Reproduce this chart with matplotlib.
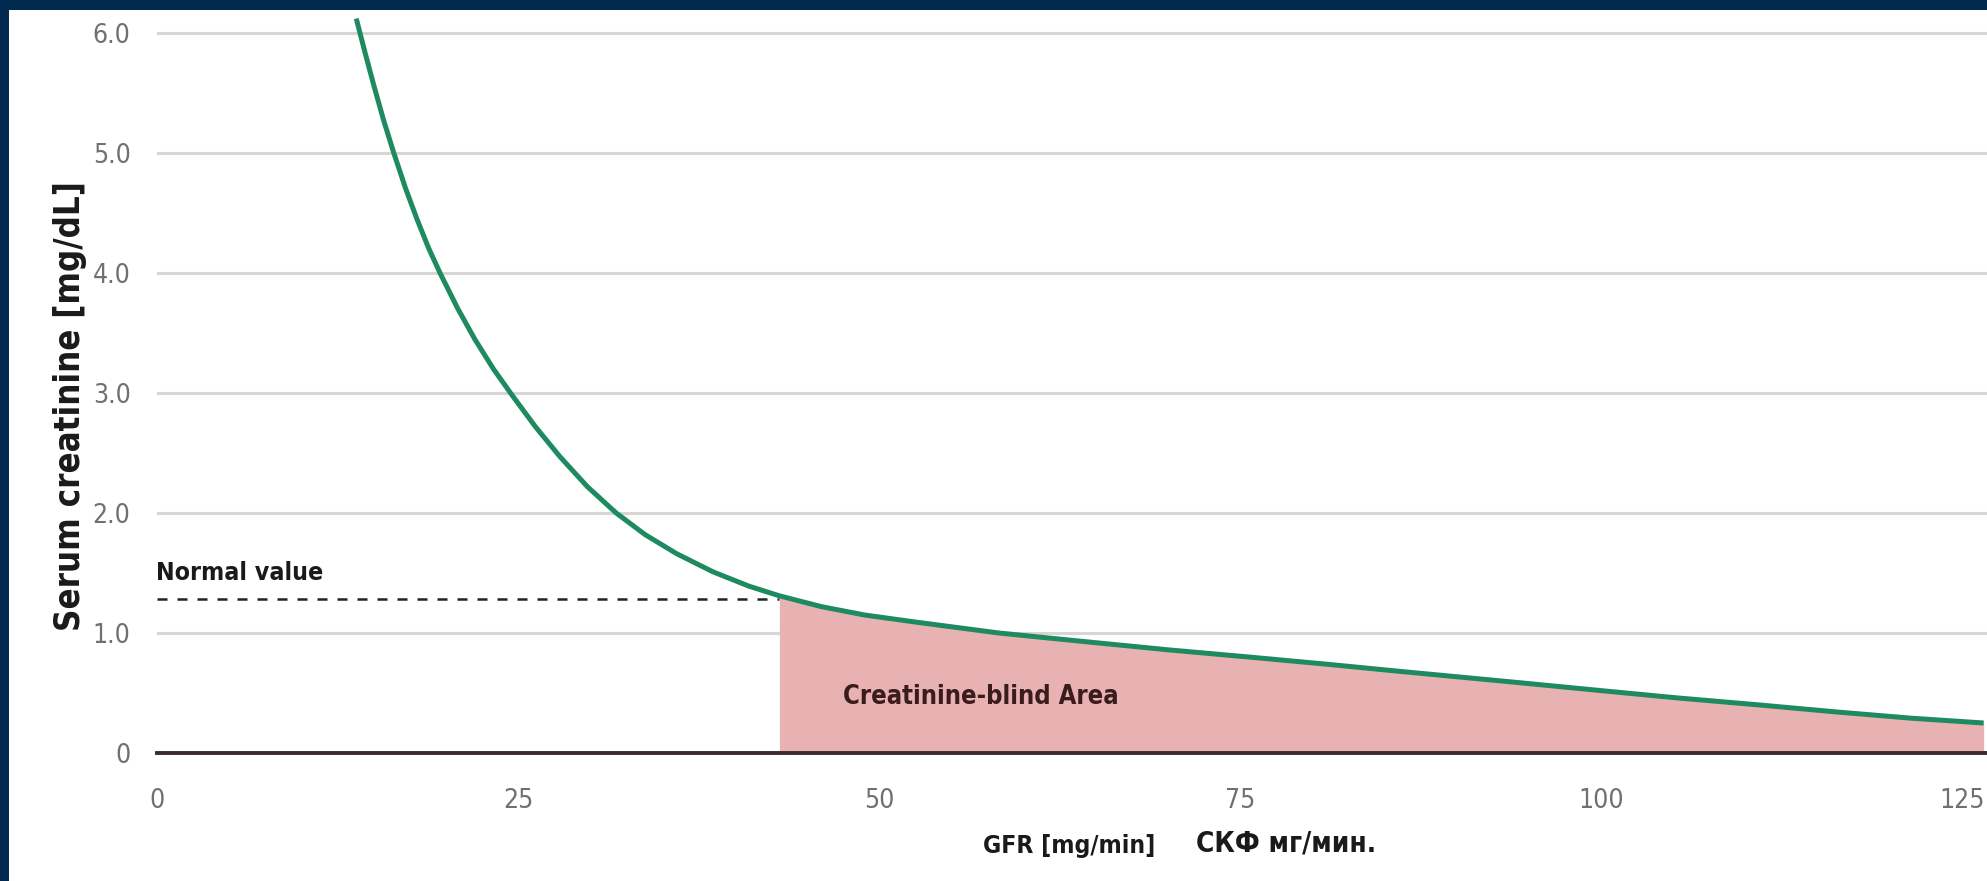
import matplotlib
matplotlib.use('Agg')
import matplotlib.pyplot as plt
from matplotlib import font_manager
from matplotlib.patches import Rectangle

# ---------------- data ----------------
gfr = [13.8, 14.4, 15.0, 15.7, 16.4, 17.2, 18.0, 18.8, 19.6, 20.8, 22.0,
       23.3, 24.6, 26.2, 27.9, 29.8, 31.8, 33.8, 36.0, 38.5, 41.0, 43.1,
       46.0, 49.0, 52.6, 58.3, 64.1, 70.0, 75.6, 81.0, 86.1, 94.0, 100.0,
       105.2, 111.0, 116.5, 121.5, 126.5]
creatinine = [6.12, 5.84, 5.57, 5.27, 5.00, 4.71, 4.45, 4.21, 4.00, 3.71,
              3.45, 3.20, 2.98, 2.72, 2.47, 2.22, 2.00, 1.82, 1.66, 1.51,
              1.39, 1.31, 1.22, 1.15, 1.09, 1.00, 0.93, 0.86, 0.80, 0.74,
              0.68, 0.59, 0.52, 0.46, 0.40, 0.34, 0.29, 0.25]
x_ticks = [0, 25, 50, 75, 100, 125]
x_tick_labels = ['0', '25', '50', '75', '100', '125']
y_ticks = [0, 1, 2, 3, 4, 5, 6]
y_tick_labels = ['0', '1.0', '2.0', '3.0', '4.0', '5.0', '6.0']
normal_value = 1.28
blind_start = 43.1

# ---------------- fonts ----------------
names = {f.name for f in font_manager.fontManager.ttflist}
if 'Liberation Sans Narrow' in names:
    FAM = ['Liberation Sans Narrow', 'DejaVu Sans']
    STRETCH = 'normal'
else:
    FAM = ['DejaVu Sans']
    STRETCH = 'condensed'

W, H, DPI = 1987, 881, 100
fig = plt.figure(figsize=(W / DPI, H / DPI), dpi=DPI, facecolor='#02294e')

# white panel (navy frame on left and top)
fig.patches.append(Rectangle((9 / W, 0), 1 - 9 / W, (H - 10) / H,
                             transform=fig.transFigure, facecolor='white',
                             edgecolor='none', zorder=-5))

x0_px = 157
px_per_x = 14.44
y0_px = 753        # from top
px_per_y = 120.0
ax = fig.add_axes([x0_px / W, (H - y0_px) / H, 1 - x0_px / W, (y0_px - 10) / H])
ax.set_zorder(2)
ax.set_facecolor('none')
ax.set_xlim(0, (W - x0_px) / px_per_x)
ax.set_ylim(0, (y0_px - 10) / px_per_y)
for s in ax.spines.values():
    s.set_visible(False)

ax.set_yticks(y_ticks, y_tick_labels)
ax.set_xticks(x_ticks, x_tick_labels)
ax.tick_params(length=0, colors='#707070', labelsize=19)
ax.tick_params(axis='y', pad=19)
ax.tick_params(axis='x', pad=25)
for lab in ax.get_xticklabels() + ax.get_yticklabels():
    lab.set_family(FAM)
    lab.set_stretch(STRETCH)
ax.yaxis.grid(True, color='#d6d6d6', lw=2.2)
ax.set_axisbelow(True)

# shaded creatinine-blind area
fx = [g for g in gfr if g >= blind_start]
fy = [c for g, c in zip(gfr, creatinine) if g >= blind_start]
ax.fill_between(fx, 0, fy, color='#e7b2b1', lw=0, zorder=2)

# curve
ax.plot(gfr, creatinine, color='#1e8a60', lw=3.6, solid_capstyle='butt',
        solid_joinstyle='round', zorder=4, clip_on=False)

# normal value dashed line
ax.plot([0, blind_start], [normal_value, normal_value], color='#222222',
        lw=1.8, linestyle=(0, (4, 4)), zorder=3)

# x axis line
ax.axhline(0, color='#3a2b2b', lw=2.8, zorder=5, clip_on=False)

# ---------------- texts ----------------
def ftxt(xpx, ypx, s, **kw):
    return fig.text(xpx / W, 1 - ypx / H, s, family=FAM, fontstretch=STRETCH,
                    zorder=6, **kw)

t_norm = ftxt(156, 573, 'Normal value', ha='left', va='center',
              fontweight='bold', color='#1a1a1a', fontsize=18)
t_blind = ftxt(843, 697, 'Creatinine-blind Area', ha='left', va='center',
               fontweight='bold', color='#3a1c1c', fontsize=18)
t_gfr = ftxt(983, 846, 'GFR [mg/min]', ha='left', va='center',
             fontweight='bold', color='#1a1a1a', fontsize=18)
t_skf = ftxt(1196, 843, 'СКФ мг/мин.', ha='left', va='center',
             fontweight='bold', color='#1a1a1a', fontsize=18)
t_ylab = ftxt(70, 406, 'Serum creatinine [mg/dL]', ha='center', va='center',
              rotation=90, fontweight='bold', color='#1a1a1a', fontsize=18)

fig.canvas.draw()
r = fig.canvas.get_renderer()


def fit(t, target, dim='w'):
    for _ in range(4):
        bb = t.get_window_extent(renderer=r)
        cur = bb.width if dim == 'w' else bb.height
        if cur > 0:
            t.set_fontsize(t.get_fontsize() * target / cur)


fit(t_norm, 168)
fit(t_blind, 276)
fit(t_gfr, 172)
fit(t_skf, 180)
fit(t_ylab, 451, 'h')

fig.savefig('out.png', dpi=DPI, facecolor=fig.get_facecolor())
